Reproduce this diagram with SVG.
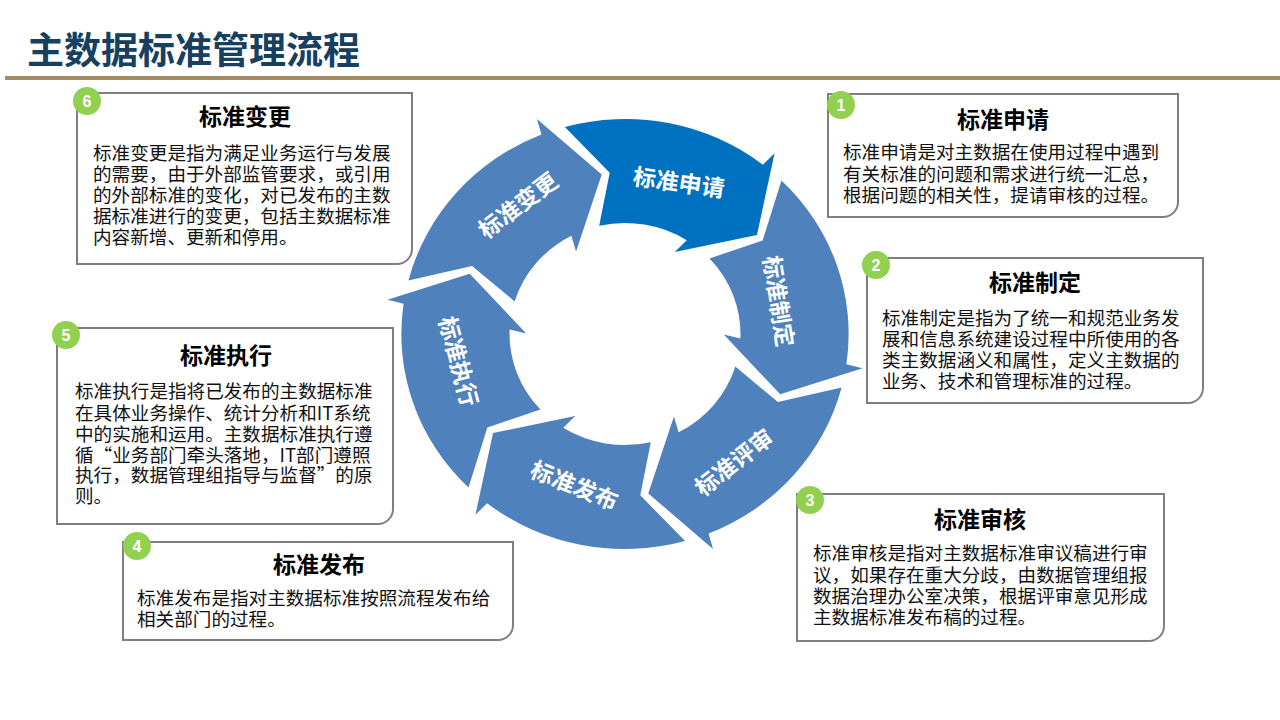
<svg xmlns="http://www.w3.org/2000/svg" xmlns:xlink="http://www.w3.org/1999/xlink" width="1280" height="720" viewBox="0 0 1280 720">
<style>
.box{fill:#fff;stroke:#7f7f7f;stroke-width:2}
.badge{fill:#92D050}
.num{font-family:"Liberation Sans",Arial,sans-serif;font-weight:bold;font-size:16px;fill:#fff;text-anchor:middle}
.ttl{font-family:"Noto Sans CJK SC","Microsoft YaHei",sans-serif;font-weight:bold;font-size:23px;fill:#000;text-anchor:middle}
.body{font-family:"Noto Sans CJK SC","Microsoft YaHei",sans-serif;font-size:18.6px;fill:#111}
.lbl{font-family:"Noto Sans CJK SC","Microsoft YaHei",sans-serif;font-weight:bold;font-size:23px;fill:#fff;text-anchor:middle;dominant-baseline:central}
.seg{fill:#4F81BD}
.seg1{fill:#0070C0}
</style>
<defs>
<path id="seg" d="M -57.8 -207.1 A 215 215 0 0 1 132.6 -169.3 L 143.8 -180.8 L 126.9 -99.1 L 47.9 -82.0 L 59.4 -93.8 A 111 111 0 0 0 -24.8 -108.2 L -14.7 -161.3 Z"/>
</defs>
<rect width="1280" height="720" fill="#fff"/>
<text x="27" y="64" font-family="'Noto Sans CJK SC','Microsoft YaHei',sans-serif" font-weight="bold" font-size="37" fill="#173F5F">主数据标准管理流程</text>
<rect x="5" y="76" width="1275" height="4" fill="#A38D60"/>

<g id="connectors">
<g transform="translate(625,334) scale(1.04,1)">
<use xlink:href="#seg" class="seg1"/>
<use xlink:href="#seg" class="seg" transform="rotate(60)"/>
<use xlink:href="#seg" class="seg" transform="rotate(120)"/>
<use xlink:href="#seg" class="seg" transform="rotate(180)"/>
<use xlink:href="#seg" class="seg" transform="rotate(240)"/>
<use xlink:href="#seg" class="seg" transform="rotate(300)"/>
</g>
</g>
<g id="ring-labels">
<text class="lbl" transform="translate(679,181) rotate(8)">标准申请</text>
<text class="lbl" transform="translate(780,301) rotate(81)">标准制定</text>
<text class="lbl" transform="translate(733,461) rotate(-38)">标准评审</text>
<text class="lbl" transform="translate(575,484) rotate(22)">标准发布</text>
<text class="lbl" transform="translate(460,361) rotate(75)">标准执行</text>
<text class="lbl" transform="translate(517,204) rotate(-37)">标准变更</text>
</g>

<g id="node6">
<path class="box" d="M77 93 H412 V249 A15 15 0 0 1 397 264 H77 Z"/>
<circle class="badge" cx="87" cy="101" r="14"/>
<text class="num" x="87" y="107">6</text>
<text class="ttl" x="245" y="125">标准变更</text>
<text class="body"><tspan x="93" y="160">标准变更是指为满足业务运行与发展</tspan><tspan x="93" y="181">的需要，由于外部监管要求，或引用</tspan><tspan x="93" y="202">的外部标准的变化，对已发布的主数</tspan><tspan x="93" y="223">据标准进行的变更，包括主数据标准</tspan><tspan x="93" y="244">内容新增、更新和停用。</tspan></text>
</g>

<g id="node1">
<path class="box" d="M828 94 H1178 V202 A15 15 0 0 1 1163 217 H828 Z"/>
<circle class="badge" cx="841" cy="105" r="14"/>
<text class="num" x="841" y="111">1</text>
<text class="ttl" x="1003" y="128">标准申请</text>
<text class="body"><tspan x="843" y="159">标准申请是对主数据在使用过程中遇到</tspan><tspan x="843" y="180.5">有关标准的问题和需求进行统一汇总，</tspan><tspan x="843" y="202">根据问题的相关性，提请审核的过程。</tspan></text>
</g>

<g id="node2">
<path class="box" d="M867 258 H1203 V388 A15 15 0 0 1 1188 403 H867 Z"/>
<circle class="badge" cx="876" cy="265" r="14"/>
<text class="num" x="876" y="271">2</text>
<text class="ttl" x="1035" y="291">标准制定</text>
<text class="body"><tspan x="882" y="325">标准制定是指为了统一和规范业务发</tspan><tspan x="882" y="346">展和信息系统建设过程中所使用的各</tspan><tspan x="882" y="367">类主数据涵义和属性，定义主数据的</tspan><tspan x="882" y="388">业务、技术和管理标准的过程。</tspan></text>
</g>

<g id="node3">
<path class="box" d="M797 494 H1164 V626 A15 15 0 0 1 1149 641 H797 Z"/>
<circle class="badge" cx="810" cy="500" r="14"/>
<text class="num" x="810" y="506">3</text>
<text class="ttl" x="980" y="528">标准审核</text>
<text class="body"><tspan x="813" y="560">标准审核是指对主数据标准审议稿进行审</tspan><tspan x="813" y="581.5">议，如果存在重大分歧，由数据管理组报</tspan><tspan x="813" y="603">数据治理办公室决策，根据评审意见形成</tspan><tspan x="813" y="624">主数据标准发布稿的过程。</tspan></text>
</g>

<g id="node4">
<path class="box" d="M123 542 H513 V625 A15 15 0 0 1 498 640 H123 Z"/>
<circle class="badge" cx="137" cy="546" r="14"/>
<text class="num" x="137" y="552">4</text>
<text class="ttl" x="319" y="573">标准发布</text>
<text class="body"><tspan x="137" y="605">标准发布是指对主数据标准按照流程发布给</tspan><tspan x="137" y="626">相关部门的过程。</tspan></text>
</g>

<g id="node5">
<path class="box" d="M57 328 H393 V509 A15 15 0 0 1 378 524 H57 Z"/>
<circle class="badge" cx="66" cy="335" r="14"/>
<text class="num" x="66" y="341">5</text>
<text class="ttl" x="226" y="364">标准执行</text>
<text class="body"><tspan x="75" y="398">标准执行是指将已发布的主数据标准</tspan><tspan x="75" y="419.5">在具体业务操作、统计分析和IT系统</tspan><tspan x="75" y="440.5">中的实施和运用。主数据标准执行遵</tspan><tspan x="75" y="461.5">循“业务部门牵头落地，IT部门遵照</tspan><tspan x="75" y="482">执行，数据管理组指导与监督”的原</tspan><tspan x="75" y="503">则。</tspan></text>
</g>
</svg>
